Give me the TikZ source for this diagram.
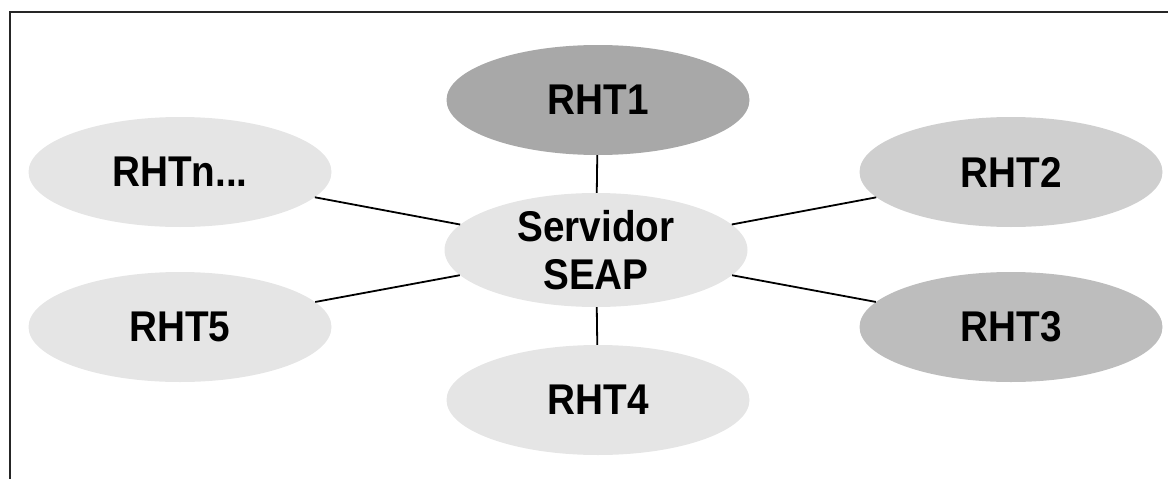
\documentclass[tikz,border=0pt]{standalone}
\usepackage{fontspec}
\setmainfont{Liberation Sans}
\newfontfamily\labfont[FakeStretch=0.9]{Liberation Sans}
\usetikzlibrary{shapes.geometric}
\definecolor{gA}{HTML}{E5E5E5}
\definecolor{gB}{HTML}{CFCFCF}
\definecolor{gC}{HTML}{BDBDBD}
\definecolor{gD}{HTML}{A8A8A8}
\tikzset{
  rht/.style={ellipse, minimum width=303pt, minimum height=110pt, inner sep=0pt,
    font=\labfont\fontsize{43}{48}\selectfont\bfseries, align=center},
  link/.style={line width=1.8pt, black},
  frame/.style={line width=1.6pt, black!85}
}
\begin{document}
\begin{tikzpicture}[x=1pt,y=-1pt]
\useasboundingbox (0,0) rectangle (1168,479);
\draw[frame] (10,479) -- (10,12) -- (1168,12);
\node[rht, fill=gA, minimum height=114pt] (srv) at (596,250) {Servidor\\SEAP};
\node[rht, fill=gD] (r1) at (598,100) {RHT1};
\node[rht, fill=gB] (r2) at (1011,172) {RHT2};
\node[rht, fill=gC] (r3) at (1011,327) {RHT3};
\node[rht, fill=gA] (r4) at (598,400) {RHT4};
\node[rht, fill=gA] (r5) at (180,327) {RHT5};
\node[rht, fill=gA] (rn) at (180,172) {RHTn...};
\draw[link] (srv) -- (r1);
\draw[link] (srv) -- (r2);
\draw[link] (srv) -- (r3);
\draw[link] (srv) -- (r4);
\draw[link] (srv) -- (r5);
\draw[link] (srv) -- (rn);
\end{tikzpicture}
\end{document}
